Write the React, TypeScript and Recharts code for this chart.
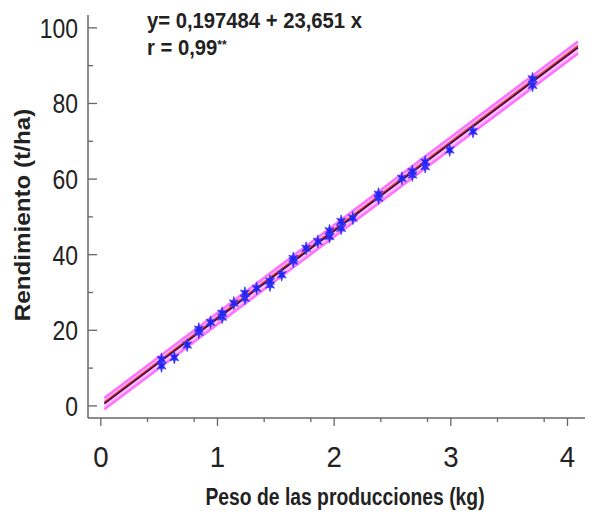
import React from "react";
import { ComposedChart, XAxis, YAxis, Scatter, Line, Area } from "recharts";

// peso (kg) y rendimiento (t/ha)
const pesoKg = [
  0.52, 0.52, 0.63, 0.74, 0.84, 0.84, 0.94, 1.04, 1.04, 1.14, 1.235, 1.235,
  1.335, 1.45, 1.45, 1.55, 1.65, 1.65, 1.76, 1.86, 1.96, 1.96, 2.06, 2.06,
  2.16, 2.38, 2.38, 2.58, 2.67, 2.67, 2.78, 2.78, 2.99, 3.19, 3.7, 3.7,
];
const rendimiento = [
  12.3, 10.6, 12.8, 16.1, 19.5, 20.3, 22.1, 23.5, 24.5, 27.2, 28.5, 29.8,
  31.1, 32.0, 33.0, 34.7, 38.3, 39.0, 41.7, 43.5, 44.8, 46.3, 47.0, 48.8,
  49.7, 55.0, 56.0, 60.2, 61.1, 62.0, 63.3, 64.5, 67.7, 72.6, 84.8, 86.5,
];

// recta ajustada y bandas (extremos leídos)
const fitX = [0.03, 4.09];
const fitY = [0.6, 94.8];
const fitRed = [1.0, 95.3];
const bandUpper = [2.1, 96.4];
const bandLower = [-0.9, 93.2];

const xTicks = [0, 0.2, 0.4, 0.6, 0.8, 1, 1.2, 1.4, 1.6, 1.8, 2, 2.2, 2.4, 2.6, 2.8, 3, 3.2, 3.4, 3.6, 3.8, 4];
const xMajor = [0, 1, 2, 3, 4];
const yTicks = [0, 5, 10, 15, 20, 25, 30, 35, 40, 45, 50, 55, 60, 65, 70, 75, 80, 85, 90, 95, 100];
const yMajor = [0, 20, 40, 60, 80, 100];

const FONT = '"Liberation Sans", Arial, sans-serif';
const AXIS = "#666";

const points = pesoKg.map((x, i) => ({ x, y: rendimiento[i] }));
const fitData = fitX.map((x, i) => ({
  x,
  fit: fitY[i],
  red: fitRed[i],
  up: bandUpper[i],
  lo: bandLower[i],
  band: [bandLower[i], bandUpper[i]],
}));

const YTick = (props: any) => {
  const { x, y, payload } = props;
  const major = yMajor.includes(payload.value);
  return (
    <g>
      <line x1={x} x2={x + (major ? 9 : 5)} y1={y} y2={y} stroke={AXIS} strokeWidth={1.3} />
      {major && (
        <text
          transform={`translate(${x - 10},${y + 10}) scale(0.85,1)`}
          textAnchor="end"
          fontSize={27}
          fill="#222"
          fontFamily={FONT}
        >
          {payload.value}
        </text>
      )}
    </g>
  );
};

const XTick = (props: any) => {
  const { x, y, payload } = props;
  const major = xMajor.includes(payload.value);
  return (
    <g>
      <line x1={x} x2={x} y1={y} y2={y + (major ? 8 : 4)} stroke={AXIS} strokeWidth={1.3} />
      {major && (
        <text
          transform={`translate(${x},${y + 49}) scale(0.92,1)`}
          textAnchor="middle"
          fontSize={30}
          fill="#222"
          fontFamily={FONT}
        >
          {payload.value}
        </text>
      )}
    </g>
  );
};

const StarShape = (props: any) => {
  const { cx, cy } = props;
  const pts: string[] = [];
  for (let i = 0; i < 12; i++) {
    const r = i % 2 === 0 ? 6.5 : 2.6;
    const a = (Math.PI / 6) * i;
    pts.push(`${cx + r * Math.sin(a) * 0.8},${cy - r * Math.cos(a)}`);
  }
  return <polygon points={pts.join(" ")} fill="#2424ee" stroke="#3a3aff" strokeWidth={0.8} />;
};

export default function App() {
  return (
    <div style={{ position: "relative", width: 580, height: 510, fontFamily: FONT }}>
      <ComposedChart width={580} height={510} margin={{ top: 7, right: 3, left: 0, bottom: 0 }}>
        <XAxis
          type="number"
          dataKey="x"
          domain={[-0.11, 4.15]}
          ticks={xTicks}
          tick={<XTick />}
          tickLine={false}
          tickSize={0}
          tickMargin={0}
          axisLine={{ stroke: AXIS, strokeWidth: 1.5 }}
          height={100}
          allowDataOverflow
        />
        <YAxis
          type="number"
          domain={[-3.2, 103.4]}
          ticks={yTicks}
          tick={<YTick />}
          tickLine={false}
          tickSize={0}
          tickMargin={0}
          axisLine={{ stroke: AXIS, strokeWidth: 1.5 }}
          width={80}
          allowDataOverflow
        />
        <Area data={fitData} dataKey="band" type="linear" stroke="none" fill="#ffaaff" fillOpacity={0.75} isAnimationActive={false} />
        <Line data={fitData} dataKey="up" type="linear" stroke="#ff70ff" strokeWidth={2.5} dot={false} isAnimationActive={false} />
        <Line data={fitData} dataKey="lo" type="linear" stroke="#ff70ff" strokeWidth={2.5} dot={false} isAnimationActive={false} />
        <Line data={fitData} dataKey="red" type="linear" stroke="#ff3a20" strokeWidth={1.4} dot={false} isAnimationActive={false} />
        <Line data={fitData} dataKey="fit" type="linear" stroke="#3a0848" strokeWidth={1.8} dot={false} isAnimationActive={false} />
        <Scatter data={points} dataKey="y" shape={<StarShape />} isAnimationActive={false} />
      </ComposedChart>
      <div
        style={{
          position: "absolute",
          left: 139,
          top: 1,
          fontSize: 22,
          fontWeight: "bold",
          color: "#222",
          lineHeight: "24px",
          whiteSpace: "nowrap",
          transform: "scaleX(0.92)",
          transformOrigin: "left top",
        }}
      >
        y= 0,197484 + 23,651 x
        <br />
        r = 0,99<sup style={{ fontSize: 13, verticalAlign: "6px" }}>**</sup>
      </div>
      <div
        style={{
          position: "absolute",
          left: 15,
          top: 207,
          transform: "translate(-50%, -50%) rotate(-90deg) scaleX(1.1)",
          fontSize: 22,
          fontWeight: "bold",
          color: "#222",
          whiteSpace: "nowrap",
        }}
      >
        Rendimiento (t/ha)
      </div>
      <div
        style={{
          position: "absolute",
          left: 337,
          top: 476,
          transform: "translateX(-50%) scaleX(0.84)",
          fontSize: 23,
          fontWeight: "bold",
          color: "#222",
          whiteSpace: "nowrap",
        }}
      >
        Peso de las producciones (kg)
      </div>
    </div>
  );
}
